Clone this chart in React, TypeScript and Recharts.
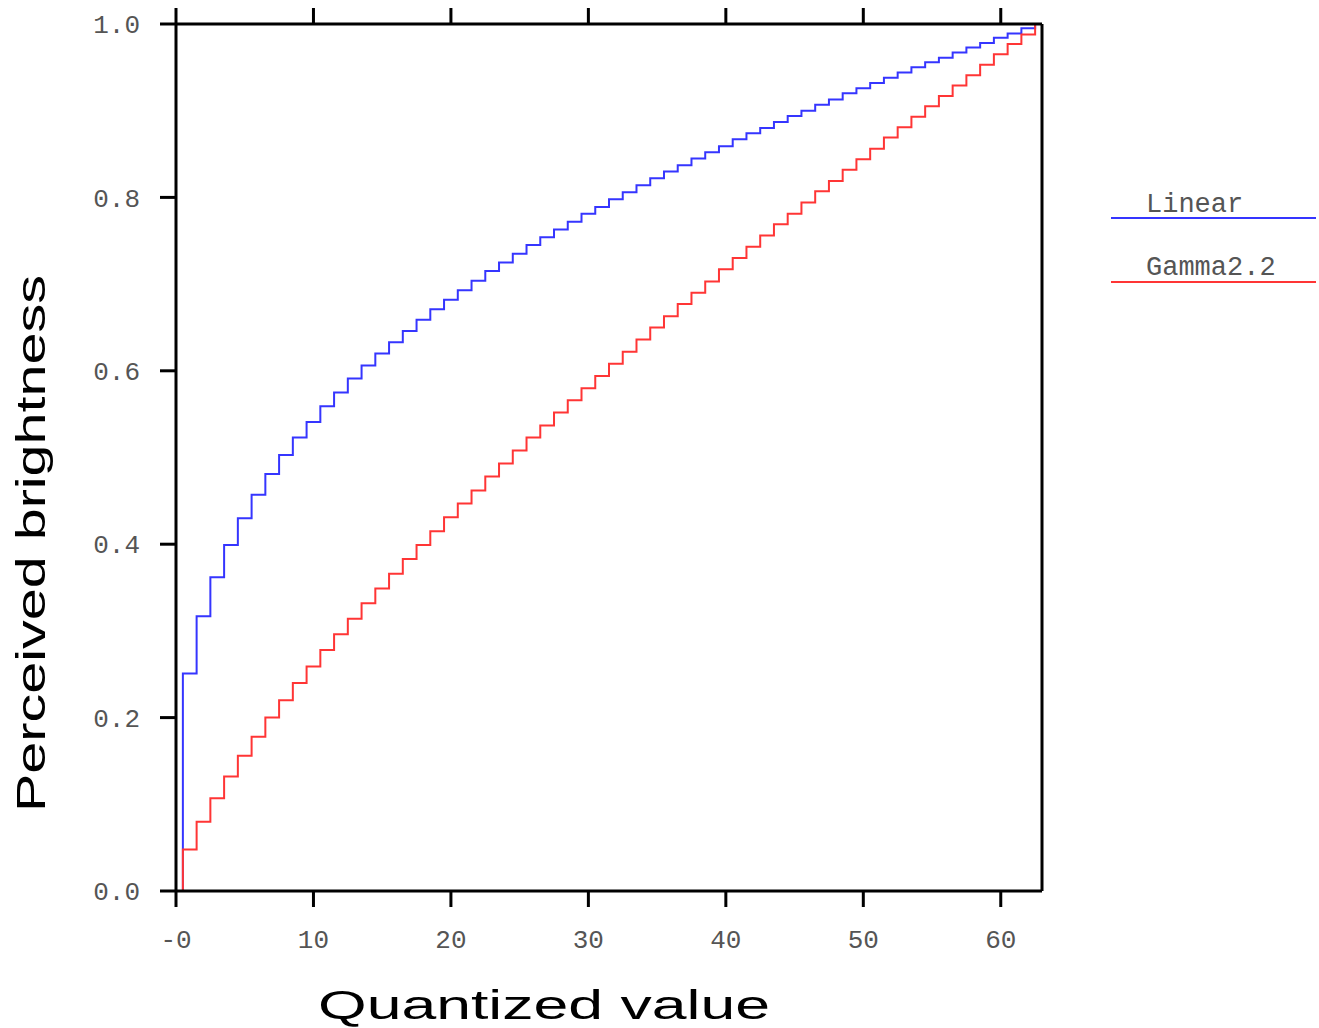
import { LineChart, Line, XAxis, YAxis, Legend } from 'recharts'

// perceived brightness (0..1) for each 6-bit quantized level 0..63
const LINEAR = [
  0, 0.251, 0.317, 0.362, 0.399, 0.43, 0.457, 0.481, 0.503, 0.523, 0.541, 0.559, 0.575, 0.591,
  0.606, 0.62, 0.633, 0.646, 0.659, 0.671, 0.682, 0.693, 0.704, 0.715, 0.725, 0.735, 0.745,
  0.754, 0.763, 0.772, 0.781, 0.789, 0.798, 0.806, 0.814, 0.822, 0.83, 0.837, 0.845, 0.852,
  0.859, 0.867, 0.874, 0.88, 0.887, 0.894, 0.9, 0.907, 0.913, 0.92, 0.926, 0.932, 0.938, 0.944,
  0.95, 0.956, 0.961, 0.967, 0.973, 0.978, 0.984, 0.989, 0.995, 1,
]
const GAMMA = [
  0, 0.048, 0.08, 0.107, 0.132, 0.156, 0.178, 0.2, 0.22, 0.24, 0.259, 0.278, 0.296, 0.314,
  0.332, 0.349, 0.366, 0.383, 0.399, 0.415, 0.431, 0.447, 0.462, 0.478, 0.493, 0.508, 0.523,
  0.537, 0.552, 0.566, 0.58, 0.594, 0.608, 0.622, 0.636, 0.65, 0.663, 0.677, 0.69, 0.703,
  0.717, 0.73, 0.743, 0.756, 0.769, 0.781, 0.794, 0.807, 0.819, 0.832, 0.844, 0.856, 0.869,
  0.881, 0.893, 0.905, 0.917, 0.929, 0.941, 0.953, 0.965, 0.977, 0.988, 1,
]
const X_TICKS = [0, 10, 20, 30, 40, 50, 60]
const Y_TICKS = [0, 0.2, 0.4, 0.6, 0.8, 1.0]
const SERIES = [
  { key: 'linear', name: 'Linear', color: '#3535ff' },
  { key: 'gamma', name: 'Gamma2.2', color: '#ff3535' },
]

const rows = LINEAR.map((v, i) => ({ level: i, linear: v, gamma: GAMMA[i] }))

const MONO = '"Liberation Mono", "DejaVu Sans Mono", monospace'
const SANS = '"Liberation Sans", Arial, sans-serif'
const tickStyle = { fill: '#555', fontSize: 26, fontFamily: MONO }
const axisLine = { stroke: '#000', strokeWidth: 3 }
const blank = () => ''

function XTitle() {
  return (
    <text x={318} y={1019} fontSize={41} fontFamily={SANS} fill="#000"
      textLength={452} lengthAdjust="spacingAndGlyphs">
      Quantized value
    </text>
  )
}

function YTitle() {
  return (
    <text x={0} y={0} transform="translate(45 812) rotate(-90)" fontSize={41} fontFamily={SANS}
      fill="#000" textLength={537} lengthAdjust="spacingAndGlyphs">
      Perceived brightness
    </text>
  )
}

function KeyBox() {
  return (
    <svg width={216} height={130} style={{ display: 'block' }}>
      {SERIES.map((s, i) => (
        <g key={s.key}>
          <text x={35} y={34 + i * 63} fontSize={27} fontFamily={MONO} fill="#555">{s.name}</text>
          <line x1={0} x2={205} y1={40 + i * 64} y2={40 + i * 64} stroke={s.color} strokeWidth={2} />
        </g>
      ))}
    </svg>
  )
}

export default function App() {
  return (
    <div>
      <style>{'html,body{margin:0;overflow:hidden;background:#fff}'}</style>
      <LineChart width={1319} height={1028} data={rows}
        margin={{ top: 8, right: 261, bottom: 77, left: 76 }}>
        <XAxis xAxisId="bottom" dataKey="level" type="number" domain={[0, 63]} ticks={X_TICKS}
          height={60} tickSize={16} tickMargin={23} tick={tickStyle}
          tickFormatter={(v: number) => (v === 0 ? '-0' : String(v))}
          axisLine={axisLine} tickLine={axisLine} label={{ content: XTitle }} />
        <XAxis xAxisId="top" orientation="top" dataKey="level" type="number" domain={[0, 63]}
          ticks={X_TICKS} height={16} tickSize={16} tickFormatter={blank}
          axisLine={axisLine} tickLine={axisLine} />
        <YAxis yAxisId="left" type="number" domain={[0, 1]} ticks={Y_TICKS} width={100}
          tickSize={16} tickMargin={20} tick={tickStyle}
          tickFormatter={(v: number) => v.toFixed(1)}
          axisLine={axisLine} tickLine={axisLine} label={{ content: YTitle }} />
        <YAxis yAxisId="right" orientation="right" type="number" domain={[0, 1]} ticks={Y_TICKS}
          width={16} tickSize={16} tickFormatter={blank} axisLine={axisLine} tickLine={axisLine} />
        <Legend layout="vertical" align="center" verticalAlign="middle" content={KeyBox}
          wrapperStyle={{ left: 1111, top: 178, width: 216 }} />
        {SERIES.map((s) => (
          <Line key={s.key} xAxisId="bottom" yAxisId="left" type="step" dataKey={s.key} name={s.name}
            stroke={s.color} strokeWidth={2} dot={false} isAnimationActive={false} />
        ))}
      </LineChart>
    </div>
  )
}
